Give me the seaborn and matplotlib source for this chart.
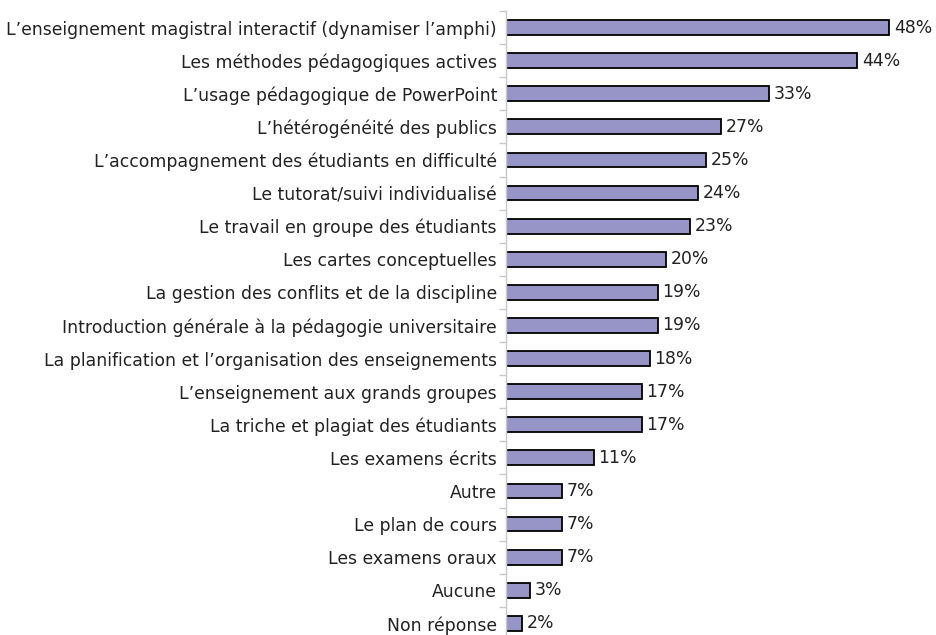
import matplotlib
matplotlib.use("Agg")
import matplotlib.pyplot as plt
import seaborn as sns
import numpy as np
import pandas as pd

# Data
themes = [
    "L\u2019enseignement magistral interactif (dynamiser l\u2019amphi)",
    "Les méthodes pédagogiques actives",
    "L\u2019usage pédagogique de PowerPoint",
    "L\u2019hétérogénéité des publics",
    "L\u2019accompagnement des étudiants en difficulté",
    "Le tutorat/suivi individualisé",
    "Le travail en groupe des étudiants",
    "Les cartes conceptuelles",
    "La gestion des conflits et de la discipline",
    "Introduction générale à la pédagogie universitaire",
    "La planification et l\u2019organisation des enseignements",
    "L\u2019enseignement aux grands groupes",
    "La triche et plagiat des étudiants",
    "Les examens écrits",
    "Autre",
    "Le plan de cours",
    "Les examens oraux",
    "Aucune",
    "Non réponse",
]
percents = [48, 44, 33, 27, 25, 24, 23, 20, 19, 19, 18, 17, 17, 11, 7, 7, 7, 3, 2]

df = pd.DataFrame({"theme": themes, "pct": percents})

sns.set_style("white")
plt.rcParams['font.family'] = ['DejaVu Sans']

W, H = 936, 635
fig = plt.figure(figsize=(W / 100, H / 100), dpi=100)
# axes placed in pixel terms: left edge at x=506, top at y=11
pitch = 33.1
top_px = 11
ax = fig.add_axes([506 / W, 0, 1 - 506 / W, (H - top_px) / H])

sns.barplot(data=df, x="pct", y="theme", orient="h", color="#9794c8",
            edgecolor="black", linewidth=1.3, width=0.45, saturation=1, ax=ax)

for i, v in enumerate(percents):
    ax.text(v + 0.6, i, f"{v}%", va="center", ha="left", fontsize=12.4, color="#222222")

ax.set_xlabel("")
ax.set_ylabel("")
ax.set_xticks([])
for s in ["top", "right", "bottom"]:
    ax.spines[s].set_visible(False)
ax.spines["left"].set_color("#c8c8c8")
ax.spines["left"].set_linewidth(1)

# small gray ticks between categories
ax.set_yticks(np.arange(-0.5, len(themes), 1), minor=True)
ax.tick_params(axis="y", which="both", left=True)
ax.tick_params(axis="y", which="major", length=0, pad=6.5, labelsize=12.4, labelcolor="#222222")
ax.tick_params(axis="y", which="minor", length=5, color="#c8c8c8", width=1)

ax.set_xlim(0, 430 / 7.98)
ax.set_ylim(-0.5 + (H - top_px) / pitch, -0.5)

fig.savefig("out.png", dpi=100)
